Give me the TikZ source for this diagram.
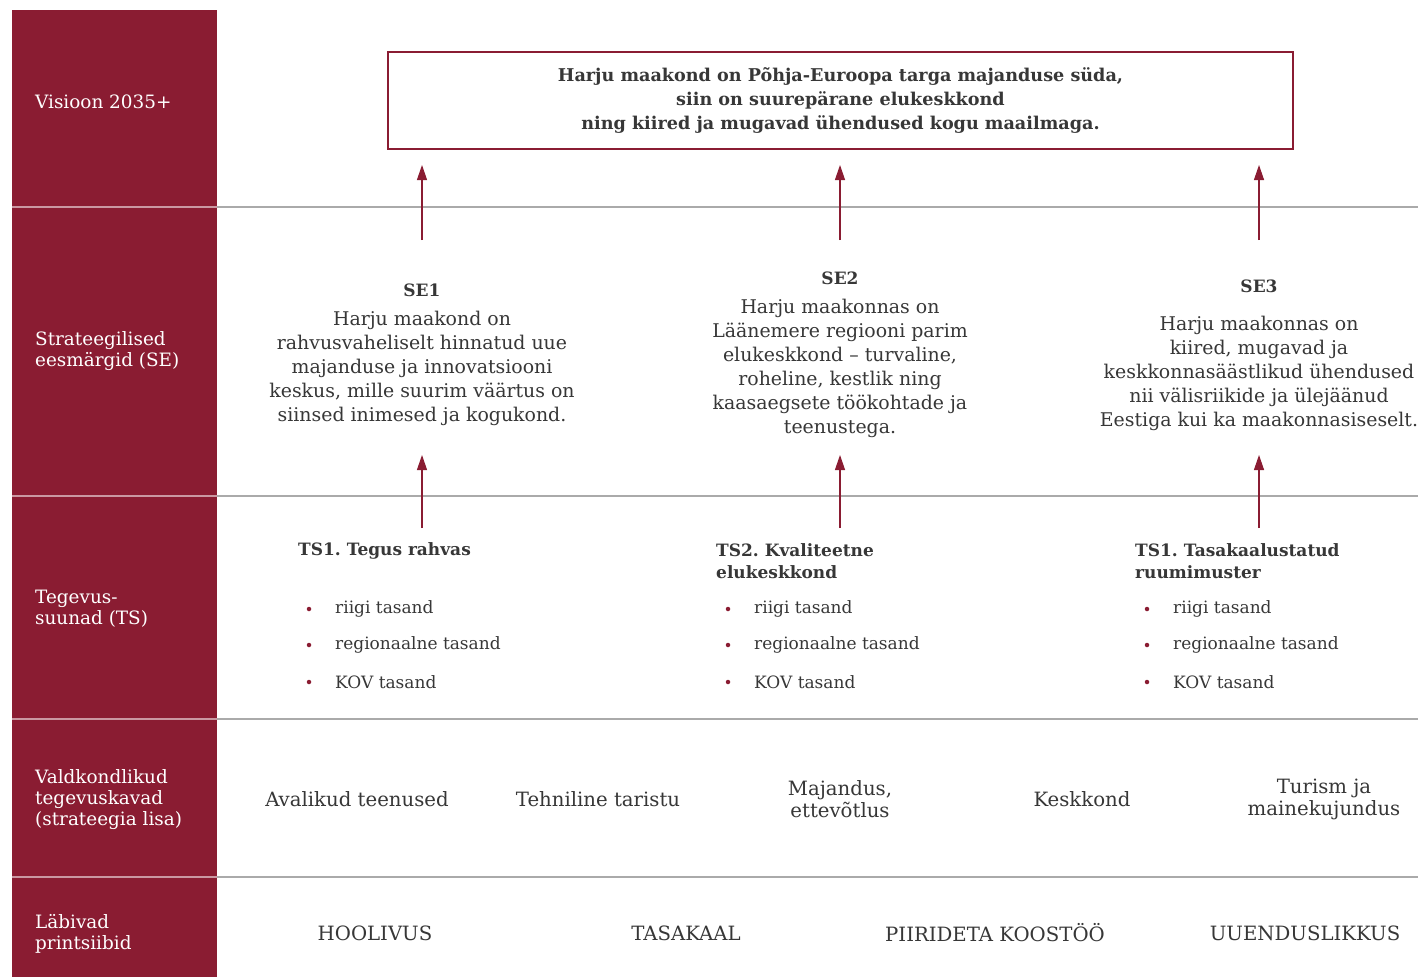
\documentclass[tikz,border=0pt]{standalone}
\usepackage{fontspec}
\setmainfont{DejaVu Serif}
\usetikzlibrary{arrows.meta}
\definecolor{brand}{RGB}{138,28,50}
\definecolor{txt}{RGB}{55,55,55}
\definecolor{rule}{RGB}{170,170,170}
\frenchspacing
\tikzset{
  side/.style={anchor=west,align=left,text=white,inner sep=0pt,font=\fontsize{18.4}{21}\selectfont},
  body/.style={align=center,text=txt,inner sep=0pt,font=\fontsize{18.9}{24}\selectfont},
  head/.style={align=center,text=txt,inner sep=0pt,font=\bfseries\fontsize{17}{22}\selectfont},
  tshead/.style={anchor=west,align=left,text=txt,inner sep=0pt,font=\bfseries\fontsize{17}{22}\selectfont},
  item/.style={anchor=west,text=txt,inner sep=0pt,font=\fontsize{17}{22}\selectfont},
  dot/.style={circle,fill=brand,inner sep=0pt,minimum size=4.5pt},
  upar/.style={draw=brand,line width=1.2pt,-{Triangle[length=15pt,width=10pt]}},
  sep/.style={draw=rule,line width=1.5pt},
  col/.style={align=center,text=txt,inner sep=0pt,font=\fontsize{19.7}{22}\selectfont},
}
\begin{document}
\begin{tikzpicture}[x=1pt,y=-1pt]
\useasboundingbox (0,0) rectangle (1418,977);
\fill[white] (0,0) rectangle (1418,977);
% sidebar
\fill[brand] (12,10) rectangle (217,977);
% separators
\foreach \yy in {207,496,719,877}{
  \draw[sep] (217,\yy) -- (1418,\yy);
  \draw[draw=white,opacity=0.55,line width=1.5pt] (12,\yy) -- (217,\yy);
}
% side labels
\node[side] (l1) at (35,102) {Visioon 2035+};
\node[side] (l2) at (35,351) {Strateegilised\\eesmärgid (SE)};
\node[side] (l3) at (35,609) {Tegevus-\\suunad (TS)};
\node[side] (l4) at (35,800) {Valdkondlikud\\tegevuskavad\\(strateegia lisa)};
\node[side] (l5) at (35,934) {Läbivad\\printsiibid};
% vision box
\node[draw=brand,line width=2.5pt,minimum width=905pt,minimum height=97pt,inner sep=0pt,
      align=center,text=txt,font=\bfseries\fontsize{17.6}{24}\selectfont] (vis) at (840.5,100.5)
 {Harju maakond on Põhja-Euroopa targa majanduse süda,\\siin on suurepärane elukeskkond\\ning kiired ja mugavad ühendused kogu maailmaga.};
% SE
\node[head] (se1h) at (422,290) {SE1};
\node[body] (se1) at (422,368) {Harju maakond on\\rahvusvaheliselt hinnatud uue\\majanduse ja innovatsiooni\\keskus, mille suurim väärtus on\\siinsed inimesed ja kogukond.};
\node[head] (se2h) at (840,278) {SE2};
\node[body] (se2) at (840,368) {Harju maakonnas on\\Läänemere regiooni parim\\elukeskkond – turvaline,\\roheline, kestlik ning\\kaasaegsete töökohtade ja\\teenustega.};
\node[head] (se3h) at (1259,286) {SE3};
\node[body] (se3) at (1259,373) {Harju maakonnas on\\kiired, mugavad ja\\keskkonnasäästlikud ühendused\\nii välisriikide ja ülejäänud\\Eestiga kui ka maakonnasiseselt.};
% arrow coordinates
\coordinate (a1s) at (422,240); \coordinate (a1e) at (422,165);
\coordinate (a2s) at (840,240); \coordinate (a2e) at (840,165);
\coordinate (a3s) at (1259,240); \coordinate (a3e) at (1259,165);
\coordinate (b1s) at (422,528); \coordinate (b1e) at (422,455);
\coordinate (b2s) at (840,528); \coordinate (b2e) at (840,455);
\coordinate (b3s) at (1259,528); \coordinate (b3e) at (1259,455);
\draw[upar] (a1s) -- (a1e);
\draw[upar] (a2s) -- (a2e);
\draw[upar] (a3s) -- (a3e);
\draw[upar] (b1s) -- (b1e);
\draw[upar] (b2s) -- (b2e);
\draw[upar] (b3s) -- (b3e);
% TS
\node[tshead] (ts1) at (298,551) {TS1. Tegus rahvas};
\node[tshead] (ts2) at (716,561) {TS2. Kvaliteetne\\elukeskkond};
\node[tshead] (ts3) at (1135,561) {TS1. Tasakaalustatud\\ruumimuster};
\foreach \xx/\nm in {309/a,728/b,1147/c}{
  \node[dot] (d\nm1) at (\xx,609) {};
  \node[dot] (d\nm2) at (\xx,645) {};
  \node[dot] (d\nm3) at (\xx,682) {};
  \node[item] (t\nm1) at (\xx+26,609) {riigi tasand};
  \node[item] (t\nm2) at (\xx+26,645) {regionaalne tasand};
  \node[item] (t\nm3) at (\xx+26,682) {KOV tasand};
}
% Valdkondlikud
\node[col] (v1) at (357,799) {Avalikud teenused};
\node[col] (v2) at (598,799) {Tehniline taristu};
\node[col] (v3) at (840,799) {Majandus,\\ettevõtlus};
\node[col] (v4) at (1082,799) {Keskkond};
\node[col] (v5) at (1324,799) {Turism ja\\mainekujundus};
% principles
\node[col] (p1) at (375,933) {HOOLIVUS};
\node[col] (p2) at (686,933) {TASAKAAL};
\node[col] (p3) at (995,933) {PIIRIDETA KOOSTÖÖ};
\node[col] (p4) at (1305,933) {UUENDUSLIKKUS};
\end{tikzpicture}
\end{document}
